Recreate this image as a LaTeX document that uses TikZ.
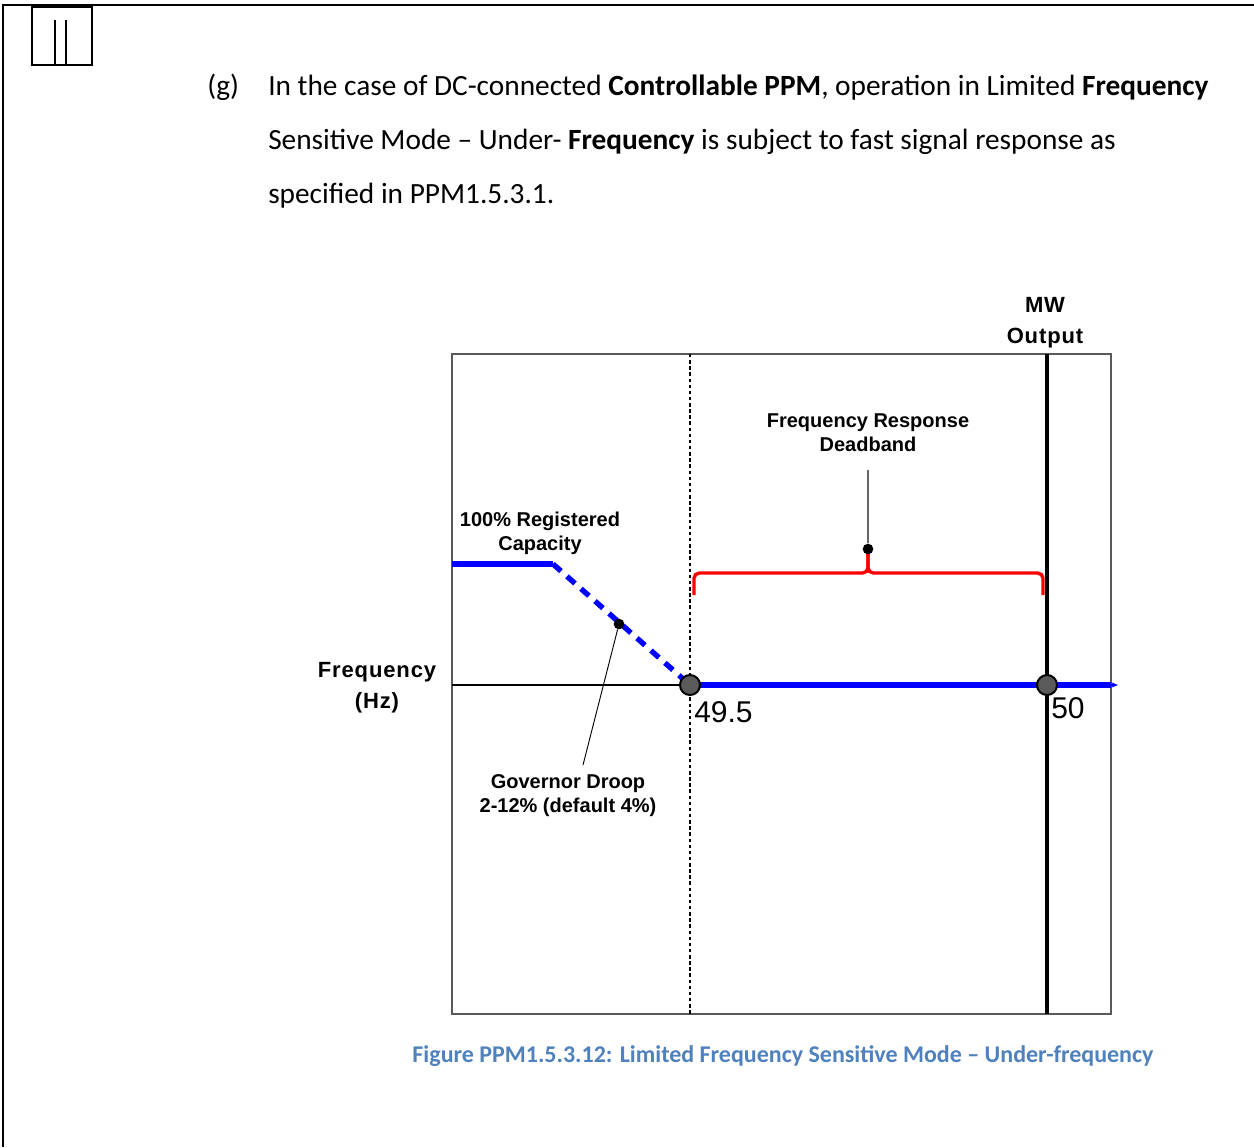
\documentclass[tikz,border=0pt]{standalone}
\usepackage{fontspec}
\setmainfont{Carlito}
\newfontfamily\arialfont{Liberation Sans}
\newfontfamily\arialwide[LetterSpace=4]{Liberation Sans Bold}
\usetikzlibrary{arrows.meta}
\definecolor{capblue}{RGB}{79,129,189}
\definecolor{dotgray}{RGB}{90,90,90}

\begin{document}
\begin{tikzpicture}[x=0.75pt,y=0.75pt,yscale=-1,xscale=1,
  lbl/.style={font=\arialfont\bfseries\fontsize{15}{18}\selectfont, align=center, inner sep=0pt},
  widelbl/.style={font=\arialwide\fontsize{16.5}{23.5}\selectfont, align=center, inner sep=0pt},
  tick/.style={font=\arialfont\fontsize{22.5}{26}\selectfont, inner sep=0pt, anchor=west},
  body/.style={font=\fontsize{22}{26}\selectfont, inner sep=0pt, anchor=base west},
  pt/.style={circle, draw=black, fill=dotgray, line width=1.5pt, minimum size=15pt, inner sep=0pt},
  tip/.style={circle, fill=black, minimum size=8pt, inner sep=0pt}]
\useasboundingbox (0,0) rectangle (1254,1147);

%Frame
\draw [line width=1.6pt] (1254,5) -- (3,5) -- (3,1147) ;
%Shape: Rectangle
\draw [line width=1.3pt] (32,7) rectangle (92,65) ;
\draw [line width=1.3pt] (55,20) -- (55,65) (66,20) -- (66,65) ;

% Text Node
\draw (207,95) node [body] (item) {(g)};
% Text Node
\draw (268,95) node [body] (line1) {In the case of DC-connected \textbf{Controllable PPM}, operation in Limited \textbf{Frequency}};
% Text Node
\draw (268,149) node [body] (line2) {Sensitive Mode – Under- \textbf{Frequency} is subject to fast signal response as};
% Text Node
\draw (268,203) node [body] (line3) {specified in PPM1.5.3.1.};

%Shape: Rectangle (chart)
\draw [color=black!65, line width=1.1pt] (452,354) rectangle (1111,1014) ;
%Dotted line at 49.5
\draw [line width=2.2pt, dash pattern=on 2.6pt off 2pt] (690,354) -- (690,1014) ;
%MW axis
\draw [line width=2.6pt] (1047,354) -- (1047,1014) ;
%Frequency axis
\draw [line width=2.2pt] (452,685) -- (690,685) ;
\draw [color=blue, line width=4pt] (690,685) -- (1111,685) ;
\draw [color=blue, line width=1pt, -{Stealth[length=5pt,width=4pt]}] (1108,685) -- (1118,685) ;
%Capacity line
\draw [color=blue, line width=4pt] (452,564) -- (553,564) ;
\draw [color=blue, line width=4pt, dash pattern=on 8pt off 6pt] (553,564) -- (690,685) ;
%Deadband bracket
\draw [color=red, line width=2.5pt, rounded corners=4pt] (694,595) -- (694,573) -- (868,573) -- (868,551) ;
\draw [color=red, line width=2.5pt, rounded corners=4pt] (1043,595) -- (1043,573) -- (868,573) -- (868,551) ;

% Points
\node [pt] (p495) at (690,685) {};
\node [pt] (p50) at (1047,685) {};
\node [tip] (dbtip) at (868,549) {};
\node [tip] (drooptip) at (619,624) {};
\coordinate (dbend) at (868,470);
\coordinate (droopend) at (583,765);

% Text Node
\draw (868,433) node [lbl] (deadband) {Frequency Response\\Deadband};
% Text Node
\draw (540,533) node [lbl] (capacity) {100\% Registered\\Capacity};
% Text Node
\draw (1045,323) node [widelbl] (mw) {MW\\Output};
% Text Node
\draw (377,688) node [widelbl] (freq) {Frequency\\(Hz)};
% Text Node
\draw (568,796) node [lbl] (droop) {Governor Droop\\2-12\% (default 4\%)};
% Text Node
\draw (694,712) node [tick] (t495) {49.5};
% Text Node
\draw (1051,708) node [tick] (t50) {50};

%Leader lines
\draw [color=black!60, line width=1.1pt] (dbtip) -- (dbend) ;
\draw [line width=0.7pt] (drooptip) -- (droopend) ;

% Caption
\draw (783,1056) node [font=\bfseries\fontsize{18}{22}\selectfont, text=capblue, inner sep=0pt] (caption) {Figure PPM1.5.3.12: Limited Frequency Sensitive Mode – Under-frequency};
\end{tikzpicture}
\end{document}
